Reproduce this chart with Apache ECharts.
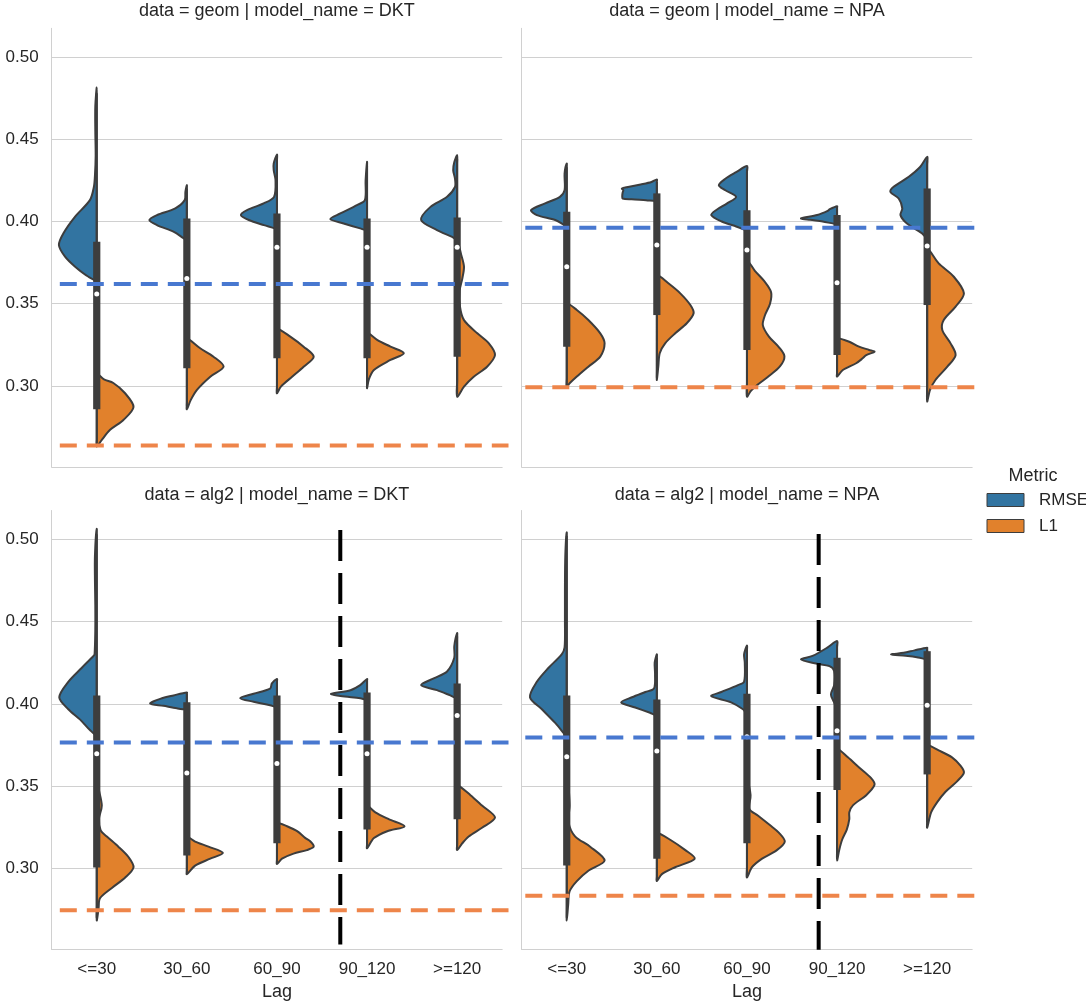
<!DOCTYPE html>
<html>
<head>
<meta charset="utf-8">
<script src="https://cdn.jsdelivr.net/npm/echarts@6/dist/echarts.min.js"></script>
<style>
  html, body { margin: 0; padding: 0; background: #ffffff; }
  #chart { width: 1086px; height: 1007px; }
</style>
</head>
<body>
<div id="chart"></div>
<script>
// ---- categories and ticks ----
const lags = ['<=30', '30_60', '60_90', '90_120', '>=120'];
const yTicks = [0.30, 0.35, 0.40, 0.45, 0.50];

// ---- violin halves: [value, relative density], listed from top to bottom ----
// data = geom | model_name = DKT
const geomDktRmse = [
  [[0.4815,0],[0.470,0.04],[0.455,0.04],[0.440,0.03],[0.428,0.05],[0.421,0.08],[0.413,0.19],[0.403,0.60],[0.393,0.92],[0.3857,1.05],[0.3786,0.88],[0.3725,0.60],[0.3664,0.23],[0.3644,0]],
  [[0.4221,0],[0.418,0.04],[0.413,0.06],[0.408,0.32],[0.4039,0.83],[0.4009,1.04],[0.3978,0.83],[0.3937,0.36],[0.3897,0.08],[0.3887,0]],
  [[0.4407,0],[0.4353,0.09],[0.4312,0.09],[0.4252,0.04],[0.415,0.08],[0.411,0.37],[0.4069,0.83],[0.4039,1.0],[0.4009,0.78],[0.3978,0.36],[0.3958,0.06],[0.395,0]],
  [[0.4363,0],[0.425,0.04],[0.413,0.06],[0.410,0.28],[0.4049,0.74],[0.4015,1.02],[0.3988,0.65],[0.3958,0.19],[0.3948,0]],
  [[0.4403,0],[0.436,0.08],[0.4312,0.11],[0.426,0.06],[0.421,0.06],[0.415,0.28],[0.4089,0.74],[0.4009,1.0],[0.3948,0.56],[0.3907,0.14],[0.3891,0]]
];
const geomDktL1 = [
  [[0.3075,0],[0.304,0.20],[0.3018,0.46],[0.2957,0.78],[0.2872,1.02],[0.2793,0.74],[0.2733,0.37],[0.2672,0.14],[0.2631,0]],
  [[0.329,0],[0.3229,0.37],[0.3178,0.74],[0.3117,1.02],[0.3056,0.65],[0.2976,0.28],[0.2915,0.11],[0.2858,0]],
  [[0.335,0],[0.330,0.37],[0.3239,0.74],[0.3178,1.02],[0.3117,0.74],[0.3056,0.42],[0.2996,0.11],[0.2955,0]],
  [[0.3325,0],[0.328,0.28],[0.3239,0.65],[0.3199,1.02],[0.3158,0.65],[0.3097,0.19],[0.304,0.05],[0.2986,0]],
  [[0.389,0],[0.380,0.11],[0.3725,0.19],[0.365,0.14],[0.358,0.07],[0.348,0.08],[0.340,0.19],[0.332,0.56],[0.3259,0.88],[0.3188,1.05],[0.3117,0.83],[0.3056,0.46],[0.2996,0.19],[0.2935,0]]
];
// inner box: [whisker low, q1, median, q3, whisker high]
const geomDktBox = [
  [0.265, 0.2858, 0.3559, 0.3877, 0.478],
  [0.288, 0.3107, 0.3654, 0.4019, 0.420],
  [0.297, 0.3168, 0.3843, 0.4049, 0.438],
  [0.300, 0.3168, 0.3843, 0.4019, 0.434],
  [0.295, 0.3178, 0.3843, 0.4025, 0.438]
];
const geomDktRef = [0.362, 0.2637];   // [RMSE, L1] reference levels

// data = geom | model_name = NPA
const geomNpaRmse = [
  [[0.4353,0],[0.4292,0.06],[0.4191,0.06],[0.415,0.19],[0.411,0.60],[0.4069,0.99],[0.4039,0.83],[0.4009,0.32],[0.3978,0.06],[0.397,0]],
  [[0.4256,0],[0.424,0.15],[0.4225,0.45],[0.421,0.80],[0.4201,0.97],[0.419,0.93],[0.4175,0.95],[0.4155,0.96],[0.414,0.95],[0.4135,0.70],[0.413,0.30],[0.4125,0]],
  [[0.4337,0],[0.430,0.30],[0.426,0.60],[0.4221,0.78],[0.419,0.60],[0.415,0.30],[0.411,0.55],[0.407,0.85],[0.4039,0.99],[0.400,0.70],[0.397,0.30],[0.3948,0]],
  [[0.4093,0],[0.4075,0.20],[0.4065,0.26],[0.404,0.55],[0.4019,1.0],[0.401,0.75],[0.400,0.40],[0.3984,0]],
  [[0.4393,0],[0.4333,0.19],[0.4272,0.51],[0.4211,0.93],[0.418,1.02],[0.414,0.79],[0.408,0.69],[0.4039,0.74],[0.3988,0.56],[0.3928,0.14],[0.3897,0]]
];
const geomNpaL1 = [
  [[0.3502,0],[0.3462,0.28],[0.3401,0.60],[0.332,0.93],[0.3259,1.05],[0.3178,0.93],[0.3117,0.60],[0.3057,0.28],[0.3016,0.08],[0.2996,0]],
  [[0.3674,0],[0.3624,0.32],[0.3563,0.65],[0.3492,0.93],[0.3442,1.02],[0.3381,0.83],[0.332,0.51],[0.3259,0.23],[0.3199,0.08],[0.3117,0.04],[0.3036,0]],
  [[0.3765,0],[0.370,0.22],[0.364,0.47],[0.357,0.67],[0.350,0.64],[0.343,0.50],[0.337,0.44],[0.330,0.61],[0.3235,0.89],[0.318,1.04],[0.312,0.92],[0.306,0.61],[0.301,0.31],[0.297,0.11],[0.2935,0]],
  [[0.329,0],[0.3269,0.34],[0.3239,0.61],[0.3219,0.89],[0.3208,1.04],[0.3188,0.81],[0.3168,0.71],[0.3138,0.53],[0.3097,0.16],[0.3057,0]],
  [[0.3837,0],[0.3745,0.32],[0.3664,0.74],[0.3563,1.02],[0.3482,0.79],[0.3401,0.46],[0.334,0.42],[0.3259,0.65],[0.3188,0.79],[0.3117,0.56],[0.3036,0.23],[0.2976,0.08],[0.2905,0]]
];
const geomNpaBox = [
  [0.300, 0.3239, 0.3725, 0.4059, 0.433],
  [0.305, 0.3431, 0.3857, 0.4171, 0.424],
  [0.295, 0.3219, 0.3826, 0.4069, 0.432],
  [0.307, 0.3188, 0.3628, 0.4039, 0.408],
  [0.292, 0.3492, 0.3851, 0.4201, 0.437]
];
const geomNpaRef = [0.3962, 0.2992];

// data = alg2 | model_name = DKT
const alg2DktRmse = [
  [[0.5063,0],[0.490,0.05],[0.475,0.05],[0.460,0.04],[0.445,0.04],[0.4301,0.06],[0.4291,0.09],[0.4218,0.42],[0.4134,0.79],[0.404,1.04],[0.3967,0.79],[0.3904,0.46],[0.3841,0.19],[0.381,0]],
  [[0.4069,0],[0.4051,0.37],[0.403,0.74],[0.4002,1.02],[0.3988,0.65],[0.3973,0.28],[0.3967,0]],
  [[0.4151,0],[0.4124,0.14],[0.4092,0.19],[0.4061,0.65],[0.4034,1.02],[0.4013,0.65],[0.3992,0.19],[0.398,0]],
  [[0.4151,0],[0.4114,0.19],[0.4083,0.46],[0.4061,1.0],[0.4047,0.74],[0.4034,0.19],[0.4025,0]],
  [[0.443,0],[0.435,0.08],[0.428,0.08],[0.4197,0.28],[0.4155,0.65],[0.4114,1.0],[0.4083,0.56],[0.4051,0.19],[0.4034,0]]
];
const alg2DktL1 = [
  [[0.362,0],[0.350,0.04],[0.3382,0.14],[0.330,0.06],[0.323,0.11],[0.3194,0.28],[0.3132,0.60],[0.3069,0.88],[0.3006,1.02],[0.2944,0.79],[0.2881,0.42],[0.2818,0.09],[0.2756,0.05],[0.2683,0]],
  [[0.3194,0],[0.3163,0.23],[0.3132,0.60],[0.3094,1.0],[0.3059,0.65],[0.3017,0.23],[0.2965,0]],
  [[0.3278,0],[0.3256,0.28],[0.3226,0.56],[0.3184,0.79],[0.3163,0.93],[0.3132,1.02],[0.3111,0.83],[0.309,0.46],[0.3059,0.14],[0.3027,0]],
  [[0.3382,0],[0.334,0.23],[0.3299,0.60],[0.3256,1.04],[0.3226,0.56],[0.3184,0.19],[0.3122,0]],
  [[0.3507,0],[0.3445,0.37],[0.3382,0.69],[0.3309,1.05],[0.3247,0.69],[0.3194,0.32],[0.3152,0.14],[0.3111,0]]
];
const alg2DktBox = [
  [0.270, 0.3006, 0.3696, 0.4051, 0.503],
  [0.298, 0.3079, 0.3580, 0.4009, 0.406],
  [0.304, 0.3152, 0.3637, 0.4051, 0.414],
  [0.313, 0.3236, 0.3696, 0.4069, 0.414],
  [0.312, 0.3299, 0.3929, 0.4124, 0.441]
];
const alg2DktRef = [0.3765, 0.2745];
const alg2DktCut = [2.703, 0.2537, 0.5057];   // [lag position, bottom, top]

// data = alg2 | model_name = NPA
const alg2NpaRmse = [
  [[0.5042,0],[0.490,0.04],[0.470,0.05],[0.450,0.05],[0.4343,0.06],[0.4301,0.14],[0.4218,0.51],[0.4134,0.83],[0.404,1.02],[0.3967,0.69],[0.3884,0.32],[0.3821,0.08],[0.380,0]],
  [[0.4301,0],[0.425,0.06],[0.418,0.05],[0.4093,0.08],[0.4072,0.32],[0.404,0.69],[0.4009,0.99],[0.3978,0.60],[0.3946,0.19],[0.393,0]],
  [[0.4354,0],[0.430,0.08],[0.425,0.06],[0.4134,0.08],[0.4114,0.25],[0.4072,0.71],[0.4047,0.99],[0.4009,0.44],[0.3967,0.11],[0.394,0]],
  [[0.4382,0],[0.4343,0.26],[0.4291,0.68],[0.427,1.0],[0.4245,0.58],[0.4229,0.21],[0.420,0.08],[0.4113,0.08],[0.4057,0.17],[0.4009,0.08],[0.3967,0]],
  [[0.4341,0],[0.4325,0.35],[0.431,0.65],[0.430,1.0],[0.4292,0.60],[0.4282,0.25],[0.427,0]]
];
const alg2NpaL1 = [
  [[0.365,0],[0.350,0.05],[0.338,0.08],[0.328,0.05],[0.3195,0.23],[0.3132,0.65],[0.3048,1.05],[0.2986,0.60],[0.2923,0.28],[0.2861,0.08],[0.278,0.04],[0.2683,0]],
  [[0.3216,0],[0.3174,0.37],[0.3111,0.79],[0.3059,1.05],[0.3007,0.51],[0.2965,0.14],[0.2923,0]],
  [[0.355,0],[0.3445,0.10],[0.336,0.07],[0.332,0.31],[0.3257,0.67],[0.3216,0.89],[0.3163,1.05],[0.3111,0.83],[0.3059,0.42],[0.3007,0.14],[0.2944,0]],
  [[0.3727,0],[0.3675,0.30],[0.3612,0.62],[0.355,0.94],[0.3508,1.04],[0.3445,0.81],[0.3383,0.44],[0.3341,0.34],[0.3299,0.34],[0.3236,0.27],[0.3174,0.14],[0.3111,0.06],[0.3048,0]],
  [[0.3748,0],[0.3717,0.32],[0.3675,0.69],[0.3623,0.93],[0.3581,1.02],[0.3529,0.83],[0.3466,0.51],[0.3403,0.28],[0.334,0.11],[0.3247,0]]
];
const alg2NpaBox = [
  [0.270, 0.3017, 0.3679, 0.4051, 0.502],
  [0.293, 0.3059, 0.3713, 0.4026, 0.428],
  [0.296, 0.3153, 0.3800, 0.4061, 0.433],
  [0.306, 0.3477, 0.3836, 0.4280, 0.436],
  [0.328, 0.3571, 0.3992, 0.4320, 0.433]
];
const alg2NpaRef = [0.3796, 0.2833];
const alg2NpaCut = [2.796, 0.2506, 0.5032];

// ---- styling ----
const FONT = '"Liberation Sans", Arial, Helvetica, sans-serif';
const TEXT = '#262626';
const GRIDC = '#d0d0d0';
const EDGE = '#3d3d3d';
const C_RMSE = '#3274a1', C_L1 = '#e1812c';
const C_REF = ['#4878d0', '#ee854a'];
const Y_MIN = 0.2507, Y_MAX = 0.5175;

const panels = [
  { title: 'data = geom | model_name = DKT', rmse: geomDktRmse, l1: geomDktL1, box: geomDktBox, ref: geomDktRef, cut: null,
    grid: { left: 51.7, top: 28.3, width: 450.5, height: 438.7 }, leftCol: true, bottomRow: false, span: [-0.41, 4.57] },
  { title: 'data = geom | model_name = NPA', rmse: geomNpaRmse, l1: geomNpaL1, box: geomNpaBox, ref: geomNpaRef, cut: null,
    grid: { left: 521.7, top: 28.3, width: 450.5, height: 438.7 }, leftCol: false, bottomRow: false, span: [-0.46, 4.54] },
  { title: 'data = alg2 | model_name = DKT', rmse: alg2DktRmse, l1: alg2DktL1, box: alg2DktBox, ref: alg2DktRef, cut: alg2DktCut,
    grid: { left: 51.7, top: 510.5, width: 450.5, height: 439 }, leftCol: true, bottomRow: true, span: [-0.41, 4.57] },
  { title: 'data = alg2 | model_name = NPA', rmse: alg2NpaRmse, l1: alg2NpaL1, box: alg2NpaBox, ref: alg2NpaRef, cut: alg2NpaCut,
    grid: { left: 521.7, top: 510.5, width: 450.5, height: 439 }, leftCol: false, bottomRow: true, span: [-0.46, 4.54] }
];

// one half of a split violin; side -1 = left, +1 = right
function violinRenderer(profiles, side) {
  return function (params, api) {
    const prof = profiles[params.dataIndex];
    const i = api.value(0);
    const half = api.size([1, 0])[0] * 0.4;
    const cx = api.coord([i, prof[0][0]])[0];
    const pts = prof.map(function (p) {
      const c = api.coord([i, p[0]]);
      return [cx + side * p[1] * half, c[1]];
    });
    const yTop = pts[0][1], yBot = pts[pts.length - 1][1];
    for (let k = 1; k < 10; k++) pts.push([cx, yBot + (yTop - yBot) * k / 10]);
    return {
      type: 'polygon',
      shape: { points: pts, smooth: 0.3 },
      style: { fill: api.visual('color'), stroke: EDGE, lineWidth: 2 }
    };
  };
}

function boxRenderer(params, api) {
  const i = api.value(0);
  const lo = api.coord([i, api.value(1)]);
  const q1 = api.coord([i, api.value(2)]);
  const md = api.coord([i, api.value(3)]);
  const q3 = api.coord([i, api.value(4)]);
  const hi = api.coord([i, api.value(5)]);
  return {
    type: 'group',
    children: [
      { type: 'line', shape: { x1: lo[0], y1: lo[1], x2: hi[0], y2: hi[1] }, style: { stroke: EDGE, lineWidth: 2 } },
      { type: 'rect', shape: { x: q3[0] - 3.6, y: q3[1], width: 7.2, height: q1[1] - q3[1] }, style: { fill: EDGE } },
      { type: 'circle', shape: { cx: md[0], cy: md[1], r: 2.5 }, style: { fill: '#ffffff' } }
    ]
  };
}

function refRenderer(span) {
  return function (params, api) {
    const v = api.value(0);
    const band = api.size([1, 0])[0];
    const c0 = api.coord([0, v]);
    return {
      type: 'line',
      shape: { x1: c0[0] + span[0] * band, y1: c0[1], x2: c0[0] + span[1] * band, y2: c0[1] },
      style: { stroke: C_REF[params.dataIndex], lineWidth: 4, lineDash: [17, 10] }
    };
  };
}

function cutRenderer(params, api) {
  const band = api.size([1, 0])[0];
  const b = api.coord([0, api.value(1)]);
  const t = api.coord([0, api.value(2)]);
  const x = b[0] + api.value(0) * band;
  return {
    type: 'line',
    shape: { x1: x, y1: t[1], x2: x, y2: b[1] },
    style: { stroke: '#000000', lineWidth: 4, lineDash: [31, 12] }
  };
}

const grids = [], xAxes = [], yAxes = [], series = [], graphics = [];

panels.forEach(function (p, k) {
  grids.push(Object.assign({ outerBoundsMode: 'none', containLabel: false }, p.grid));
  xAxes.push({
    type: 'category', gridIndex: k, data: lags, boundaryGap: true,
    axisLine: { show: true, lineStyle: { color: GRIDC, width: 1 } },
    axisTick: { show: false },
    axisLabel: { show: p.bottomRow, interval: 0, margin: 11, color: TEXT, fontSize: 17, fontFamily: FONT },
    splitLine: { show: false },
    name: p.bottomRow ? 'Lag' : '', nameLocation: 'middle', nameGap: 34,
    nameTextStyle: { color: TEXT, fontSize: 18, fontFamily: FONT }
  });
  yAxes.push({
    type: 'value', gridIndex: k, min: Y_MIN, max: Y_MAX,
    axisLine: { show: true, lineStyle: { color: GRIDC, width: 1 } },
    axisTick: { show: false, customValues: yTicks },
    axisLabel: { show: p.leftCol, customValues: yTicks, margin: 13, color: TEXT, fontSize: 17, fontFamily: FONT,
      formatter: function (v) { return v.toFixed(2); } },
    splitLine: { show: true, lineStyle: { color: GRIDC, width: 1 } }
  });

  series.push({
    type: 'custom', name: 'RMSE', xAxisIndex: k, yAxisIndex: k, z: 2,
    itemStyle: { color: C_RMSE, borderColor: EDGE, borderWidth: 1 },
    data: p.rmse.map(function (prof, i) { return [i, prof[0][0], prof[prof.length - 1][0]]; }),
    encode: { x: 0, y: [1, 2] },
    renderItem: violinRenderer(p.rmse, -1)
  });
  series.push({
    type: 'custom', name: 'L1', xAxisIndex: k, yAxisIndex: k, z: 2,
    itemStyle: { color: C_L1, borderColor: EDGE, borderWidth: 1 },
    data: p.l1.map(function (prof, i) { return [i, prof[0][0], prof[prof.length - 1][0]]; }),
    encode: { x: 0, y: [1, 2] },
    renderItem: violinRenderer(p.l1, 1)
  });
  series.push({
    type: 'custom', name: 'box', xAxisIndex: k, yAxisIndex: k, z: 3,
    data: p.box.map(function (b, i) { return [i].concat(b); }),
    encode: { x: 0, y: [1, 2, 3, 4, 5] },
    renderItem: boxRenderer
  });
  series.push({
    type: 'custom', name: 'reference', xAxisIndex: k, yAxisIndex: k, z: 4,
    data: p.ref.map(function (v) { return [v]; }),
    encode: { y: 0 },
    renderItem: refRenderer(p.span)
  });
  if (p.cut) {
    series.push({
      type: 'custom', name: 'cut', xAxisIndex: k, yAxisIndex: k, z: 5,
      data: [p.cut],
      encode: { y: [1, 2] },
      renderItem: cutRenderer
    });
  }

  graphics.push({
    type: 'text', x: p.grid.left + p.grid.width / 2, y: p.grid.top - (p.bottomRow ? 15.5 : 17),
    style: { text: p.title, fill: TEXT, font: '18px ' + FONT, textAlign: 'center', textVerticalAlign: 'middle' }
  });
});

graphics.push({
  type: 'text', x: 1033, y: 476,
  style: { text: 'Metric', fill: TEXT, font: '18px ' + FONT, textAlign: 'center', textVerticalAlign: 'middle' }
});

const chart = echarts.init(document.getElementById('chart'), null, { renderer: 'canvas' });
chart.setOption({
  animation: false,
  backgroundColor: '#ffffff',
  grid: grids,
  xAxis: xAxes,
  yAxis: yAxes,
  legend: {
    data: ['RMSE', 'L1'], orient: 'vertical', left: 981.5, top: 485,
    itemWidth: 37, itemHeight: 13, itemGap: 6, icon: 'rect', selectedMode: false,
    itemStyle: { borderColor: EDGE, borderWidth: 1 },
    textStyle: { color: TEXT, fontSize: 17, fontFamily: FONT, lineHeight: 20, padding: [0, 0, 0, 10] }
  },
  graphic: graphics,
  series: series
});
</script>
</body>
</html>
